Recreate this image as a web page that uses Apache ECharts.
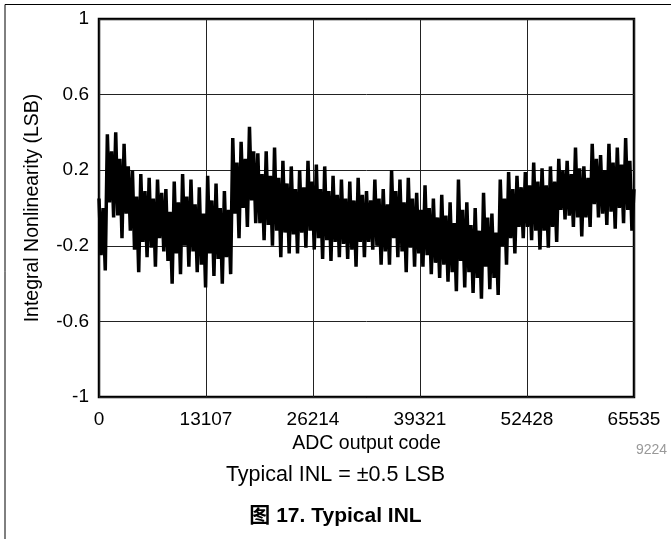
<!doctype html>
<html lang="en">
  <head>
    <meta charset="UTF-8" />
    <title>Typical INL</title>
    <script src="https://cdn.jsdelivr.net/npm/echarts@6/dist/echarts.min.js"></script>
    <style>
      body { margin: 0; background: #fff; }
    </style>
  </head>
  <body>
    <div id="chart" style="width: 671px; height: 539px"></div>
    <script>
      // INL samples, one every 256 codes (LSB)
      // each group of four: peak, inner low, inner high, trough
      const inlPart1 = [
        0.05, -0.25, 0.0, -0.33,  0.39, 0.03, 0.3, -0.05,   0.4, -0.04, 0.26, -0.16,  0.34, -0.03, 0.22, -0.12,
        0.2, -0.22, 0.06, -0.34,  0.18, -0.18, 0.09, -0.26, 0.16, -0.21, 0.05, -0.31, 0.15, -0.16, 0.08, -0.23,
        0.1, -0.28, -0.02, -0.4,  0.14, -0.24, 0.03, -0.35, 0.18, -0.2, 0.06, -0.31,  0.15, -0.23, 0.02, -0.34,
        0.11, -0.3, -0.03, -0.42, 0.17, -0.24, 0.04, -0.36, 0.13, -0.27, 0.0, -0.4,   0.09, -0.26, -0.01, -0.35,
      ];
      const inlPart2 = [
        0.37, -0.03, 0.24, -0.16, 0.35, 0.0, 0.26, -0.1,    0.43, 0.04, 0.3, -0.08,   0.29, -0.08, 0.18, -0.17,
        0.3, -0.09, 0.17, -0.2,   0.32, -0.12, 0.16, -0.26, 0.25, -0.13, 0.13, -0.24, 0.22, -0.14, 0.1, -0.24,
        0.2, -0.13, 0.11, -0.21,  0.25, -0.12, 0.14, -0.22, 0.23, -0.16, 0.1, -0.27,  0.22, -0.17, 0.09, -0.28,
        0.17, -0.18, 0.07, -0.26, 0.15, -0.19, 0.05, -0.27, 0.14, -0.22, 0.04, -0.31, 0.16, -0.18, 0.07, -0.26,
      ];
      const inlPart3 = [
        0.09, -0.18, 0.04, -0.22, 0.15, -0.2, 0.05, -0.3,   0.1, -0.23, 0.02, -0.3,   0.2, -0.16, 0.09, -0.26,
        0.15, -0.23, 0.03, -0.34, 0.16, -0.21, 0.05, -0.31, 0.08, -0.24, -0.01, -0.31, 0.12, -0.25, 0.0, -0.35,
        0.05, -0.29, -0.05, -0.37, 0.07, -0.3, -0.04, -0.39, 0.03, -0.34, -0.08, -0.44, 0.15, -0.28, -0.01, -0.42,
        0.03, -0.34, -0.09, -0.45, 0.0, -0.37, -0.12, -0.48, 0.08, -0.31, -0.05, -0.43, -0.03, -0.37, -0.13, -0.46,
      ];
      const inlPart4 = [
        0.15, -0.2, 0.05, -0.3,   0.19, -0.16, 0.1, -0.24,  0.17, -0.1, 0.11, -0.16,  0.19, -0.1, 0.12, -0.17,
        0.24, -0.12, 0.14, -0.22, 0.21, -0.12, 0.12, -0.21, 0.22, -0.1, 0.14, -0.18,  0.26, -0.01, 0.2, -0.06,
        0.25, -0.04, 0.18, -0.1,  0.32, -0.05, 0.21, -0.15, 0.22, -0.05, 0.16, -0.1,  0.34, 0.02, 0.26, -0.05,
        0.28, -0.03, 0.2, -0.09,  0.34, -0.02, 0.24, -0.11, 0.32, 0.0, 0.23, -0.08,   0.37, -0.01, 0.25, -0.12,
        0.1,
      ];
      const codeStep = 256;
      const codeMax = 65535;
      const xTicks = [0, 13107, 26214, 39321, 52428, 65535];
      const yTickLabels = ['-1', '-0.6', '-0.2', '0.2', '0.6', '1'];

      const inl = inlPart1.concat(inlPart2, inlPart3, inlPart4);
      const seriesData = inl.map((v, i) => [Math.min(i * codeStep, codeMax), v]);

      const font = "'Liberation Sans', Arial, sans-serif";
      const chart = echarts.init(document.getElementById('chart'));
      chart.setOption({
        animation: false,
        backgroundColor: '#fff',
        textStyle: { fontFamily: font },
        grid: {
          left: 99,
          top: 19,
          width: 535,
          height: 378,
          show: true,
          borderColor: '#000',
          borderWidth: 2.5,
          containLabel: false,
        },
        xAxis: {
          type: 'value',
          min: 0,
          max: codeMax,
          interval: xTicks[1] - xTicks[0],
          name: 'ADC output code',
          nameLocation: 'middle',
          nameGap: 29,
          nameTextStyle: { color: '#000', fontSize: 19.5, fontFamily: font },
          axisLine: { show: false },
          axisTick: { show: false },
          axisLabel: {
            color: '#000',
            fontSize: 19,
            margin: 13,
            showMaxLabel: true,
            showMinLabel: true,
            formatter: (v) => String(v),
          },
          splitLine: { show: true, lineStyle: { color: '#222', width: 1 } },
        },
        yAxis: [
          {
            // display axis: tick positions 0..5 stand for -1..1
            type: 'value',
            min: 0,
            max: yTickLabels.length - 1,
            interval: 1,
            name: 'Integral Nonlinearity (LSB)',
            nameLocation: 'middle',
            nameGap: 56,
            nameTextStyle: { color: '#000', fontSize: 19.5, fontFamily: font },
            axisLine: { show: false },
            axisTick: { show: false },
            axisLabel: { color: '#000', fontSize: 19, margin: 10, formatter: (v) => yTickLabels[v] },
            splitLine: { show: true, lineStyle: { color: '#222', width: 1 } },
          },
          {
            type: 'value',
            min: -1,
            max: 1,
            show: false,
          },
        ],
        series: [
          {
            type: 'line',
            yAxisIndex: 1,
            data: seriesData,
            showSymbol: false,
            symbol: 'none',
            lineStyle: { color: '#000', width: 3.5 },
            z: 1,
          },
        ],
        graphic: [
          { type: 'line', shape: { x1: 5, y1: 4.5, x2: 671, y2: 4.5 }, style: { stroke: '#000', lineWidth: 1 } },
          { type: 'line', shape: { x1: 5, y1: 4.5, x2: 5, y2: 539 }, style: { stroke: '#000', lineWidth: 1 } },
          {
            type: 'text',
            left: 636,
            top: 443,
            style: { text: '9224', fill: '#999', fontSize: 14, fontFamily: font },
          },
          {
            type: 'text',
            left: 'center',
            top: 464,
            style: { text: 'Typical INL = ±0.5 LSB', fill: '#000', fontSize: 21.5, fontFamily: font },
          },
          {
            type: 'text',
            left: 'center',
            top: 506,
            style: {
              text: '图 17. Typical INL',
              fill: '#000',
              fontSize: 21,
              fontWeight: 'bold',
              fontFamily: "'Liberation Sans', 'Noto Sans CJK SC', sans-serif",
            },
          },
        ],
      });
    </script>
  </body>
</html>
